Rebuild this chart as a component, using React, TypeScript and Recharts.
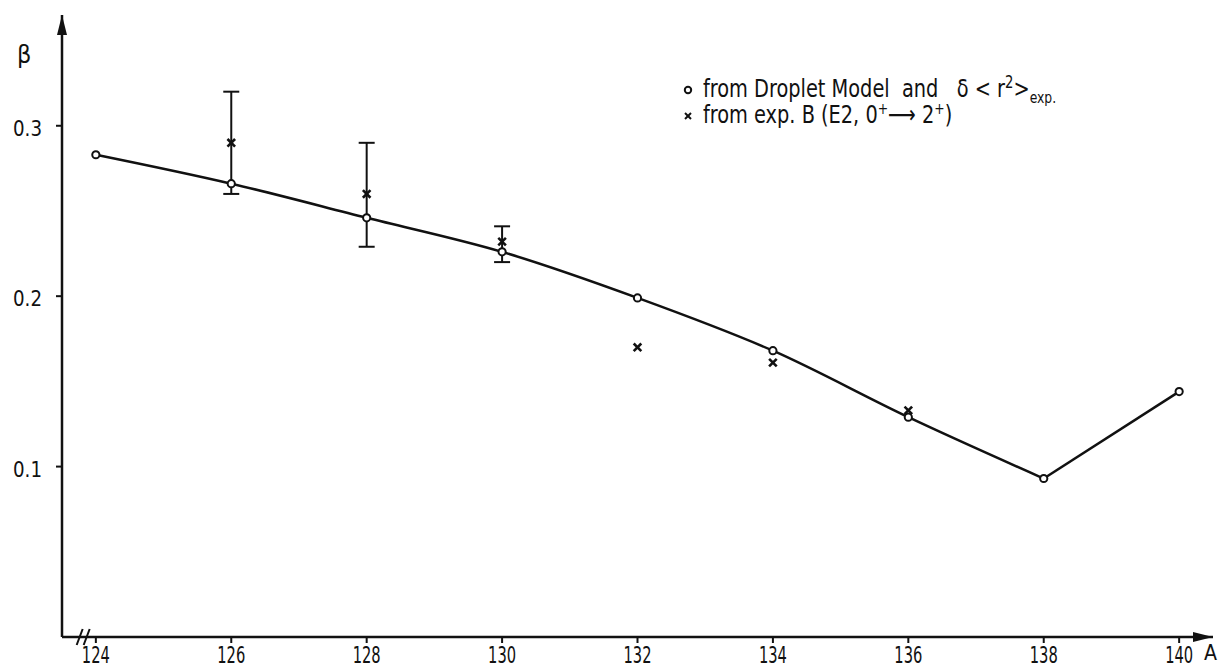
import {
  ComposedChart,
  Line,
  Scatter,
  XAxis,
  YAxis,
  ErrorBar,
  ReferenceDot,
} from "recharts";

// beta deformation vs mass number A
const massNumbers = [124, 126, 128, 130, 132, 134, 136, 138, 140];
const dropletBeta = [0.283, 0.266, 0.246, 0.226, 0.199, 0.168, 0.129, 0.093, 0.144];

const expMass = [126, 128, 130, 132, 134, 136];
const expBeta = [0.29, 0.26, 0.232, 0.17, 0.161, 0.133];
const expErrLow = [0.03, 0.031, 0.012, null, null, null];
const expErrHigh = [0.03, 0.03, 0.009, null, null, null];

const xTicks = [124, 126, 128, 130, 132, 134, 136, 138, 140];
const yTicks = [0.1, 0.2, 0.3];

const X_MIN = 123.5;
const X_MAX = 140.5;
const Y_MAX = 0.365;

const FONT = '"DejaVu Sans Condensed", "DejaVu Sans", sans-serif';
const INK = "#111";

const dropletData = massNumbers.map((A, i) => ({ A, beta: dropletBeta[i] }));
// smooth drawn curve up to the minimum, then a straight segment
const curveData = dropletData.filter((d) => d.A <= 138);
const kinkData = dropletData.filter((d) => d.A >= 138);

const expData = expMass.map((A, i) => ({ A, beta: expBeta[i] }));
const expErrData = expMass
  .map((A, i) => ({ A, beta: expBeta[i], err: [expErrLow[i], expErrHigh[i]] }))
  .filter((d) => d.err[0] != null);

const OpenCircle = (props: any) => (
  <circle cx={props.cx} cy={props.cy} r={3.6} fill="#fff" stroke={INK} strokeWidth={2} />
);

const Cross = (props: any) => {
  const { cx, cy } = props;
  const s = 3.8;
  return (
    <g stroke={INK} strokeWidth={2.6}>
      <line x1={cx - s} y1={cy - s} x2={cx + s} y2={cy + s} />
      <line x1={cx - s} y1={cy + s} x2={cx + s} y2={cy - s} />
    </g>
  );
};

const Nothing = () => <g />;

// narrow technical lettering: squeeze the glyphs to the reference width
const XTick = (props: any) => (
  <text
    x={props.x}
    y={props.y}
    dy={20}
    textAnchor="middle"
    fontFamily={FONT}
    fontSize={23}
    fill={INK}
    textLength={28}
    lengthAdjust="spacingAndGlyphs"
  >
    {props.payload.value}
  </text>
);

const YTick = (props: any) => (
  <text
    x={props.x - 14}
    y={props.y}
    dy={10}
    textAnchor="end"
    fontFamily={FONT}
    fontSize={21}
    fill={INK}
    textLength={29}
    lengthAdjust="spacingAndGlyphs"
  >
    {String(props.payload.value)}
  </text>
);

const ArrowUp = (props: any) => {
  const { cx, cy } = props;
  return <path d={`M${cx},${cy} L${cx - 5},${cy + 20} L${cx + 5},${cy + 20} Z`} fill={INK} />;
};

const ArrowRight = (props: any) => {
  const { cx, cy } = props;
  return <path d={`M${cx},${cy} L${cx - 20},${cy - 5} L${cx - 20},${cy + 5} Z`} fill={INK} />;
};

const AxisBreak = (props: any) => {
  const { cx, cy } = props;
  return (
    <g stroke={INK} strokeWidth={2}>
      <line x1={cx - 1} y1={cy - 8} x2={cx - 7} y2={cy + 8} />
      <line x1={cx + 6} y1={cy - 8} x2={cx} y2={cy + 8} />
    </g>
  );
};

function Legend() {
  return (
    <div
      style={{
        position: "absolute",
        left: 682,
        top: 76,
        fontFamily: FONT,
        fontSize: 25,
        lineHeight: "26px",
        color: INK,
        whiteSpace: "pre",
      }}
    >
      <div style={{ display: "flex", alignItems: "center" }}>
        <svg width={21} height={14}>
          <circle cx={6} cy={8} r={3.2} fill="#fff" stroke={INK} strokeWidth={2} />
        </svg>
        <span style={{ display: "inline-block", transform: "scaleX(0.86)", transformOrigin: "left center" }}>
          {"from Droplet Model  and   δ < r"}
          <sup style={{ fontSize: 17, lineHeight: 0 }}>2</sup>
          {">"}
          <sub style={{ fontSize: 16, lineHeight: 0 }}>exp.</sub>
        </span>
      </div>
      <div style={{ display: "flex", alignItems: "center" }}>
        <svg width={21} height={14}>
          <g stroke={INK} strokeWidth={2}>
            <line x1={3} y1={5} x2={9} y2={11} />
            <line x1={3} y1={11} x2={9} y2={5} />
          </g>
        </svg>
        <span style={{ display: "inline-block", transform: "scaleX(0.86)", transformOrigin: "left center" }}>
          {"from exp. B (E2, 0"}
          <sup style={{ fontSize: 16, lineHeight: 0 }}>+</sup>
          {"⟶ 2"}
          <sup style={{ fontSize: 16, lineHeight: 0 }}>+</sup>
          {")"}
        </span>
      </div>
    </div>
  );
}

export default function App() {
  return (
    <div style={{ position: "absolute", left: 0, top: 0, width: 1218, height: 669, background: "#fff" }}>
      <ComposedChart width={1218} height={669} margin={{ top: 15, right: 5, bottom: 0, left: 0 }}>
        <XAxis
          type="number"
          dataKey="A"
          domain={[X_MIN, X_MAX]}
          ticks={xTicks}
          interval={0}
          allowDataOverflow
          height={32}
          tickSize={6}
          tickMargin={0}
          axisLine={{ stroke: INK, strokeWidth: 2.5 }}
          tickLine={{ stroke: INK, strokeWidth: 2 }}
          tick={<XTick />}
          label={{
            content: (p: any) => (
              <text
                x={p.viewBox.x + p.viewBox.width - 9}
                y={p.viewBox.y + 23}
                fontFamily={FONT}
                fontSize={22}
                fill={INK}
                textLength={13}
                lengthAdjust="spacingAndGlyphs"
              >
                A
              </text>
            ),
          }}
        />
        <YAxis
          type="number"
          dataKey="beta"
          domain={[0, Y_MAX]}
          ticks={yTicks}
          interval={0}
          allowDataOverflow
          width={62}
          tickSize={6}
          tickMargin={0}
          axisLine={{ stroke: INK, strokeWidth: 2.5 }}
          tickLine={{ stroke: INK, strokeWidth: 2 }}
          tick={<YTick />}
          label={{
            content: (p: any) => (
              <text x={p.viewBox.x + 17} y={p.viewBox.y + 48} fontFamily={FONT} fontSize={25} fill={INK}>
                β
              </text>
            ),
          }}
        />
        <ReferenceDot x={X_MIN} y={Y_MAX} r={0} ifOverflow="visible" shape={<ArrowUp />} />
        <ReferenceDot x={X_MAX} y={0} r={0} ifOverflow="visible" shape={<ArrowRight />} />
        <ReferenceDot x={123.82} y={0} r={0} ifOverflow="visible" shape={<AxisBreak />} />

        <Line
          data={curveData}
          dataKey="beta"
          type="monotone"
          stroke={INK}
          strokeWidth={2.5}
          dot={false}
          activeDot={false}
          isAnimationActive={false}
        />
        <Line
          data={kinkData}
          dataKey="beta"
          type="linear"
          stroke={INK}
          strokeWidth={2.5}
          dot={false}
          activeDot={false}
          isAnimationActive={false}
        />
        <Scatter data={expErrData} dataKey="beta" shape={<Nothing />} isAnimationActive={false}>
          <ErrorBar dataKey="err" direction="y" width={8} stroke={INK} strokeWidth={2} />
        </Scatter>
        <Scatter data={expData} dataKey="beta" shape={<Cross />} isAnimationActive={false} />
        <Scatter data={dropletData} dataKey="beta" shape={<OpenCircle />} isAnimationActive={false} />
      </ComposedChart>
      <Legend />
    </div>
  );
}
